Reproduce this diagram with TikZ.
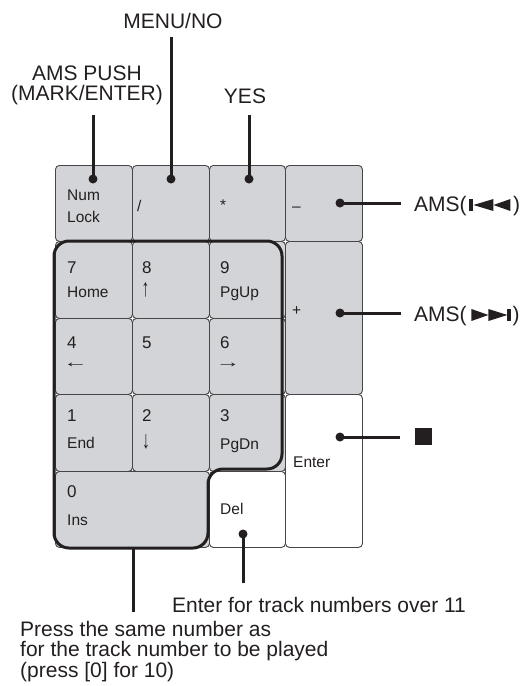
\documentclass[tikz,border=0pt]{standalone}
\usepackage{fontspec}
\setmainfont{Liberation Sans}
\usetikzlibrary{calc}
\definecolor{keygray}{RGB}{211,212,215}
\definecolor{ink}{RGB}{35,31,32}
\definecolor{keyedge}{RGB}{70,70,72}
\tikzset{
  keybox/.style={draw=keyedge, line width=0.9pt, rounded corners=4pt, fill=keygray, anchor=north west, inner sep=0pt},
  keywhite/.style={keybox, fill=white},
  conn/.style={draw=ink, line width=3pt},
  dot/.style={circle, fill=ink, minimum size=9pt, inner sep=0pt},
  lab/.style={font=\fontsize{21}{19.5}\selectfont, text=ink, inner sep=0pt},
  klab/.style={font=\fontsize{15.5}{17}\selectfont, text=ink, anchor=base west, inner sep=0pt},
  kdig/.style={font=\fontsize{17}{18}\selectfont, text=ink, anchor=base west, inner sep=0pt},
  karr/.style={font=\fontsize{15.5}{17}\selectfont, text=ink, inner sep=0pt},
  padoutline/.style={draw=ink, line width=3pt, rounded corners=15pt},
}
\begin{document}
\begin{tikzpicture}[x=1pt,y=-1pt]
\useasboundingbox (0,0) rectangle (520,686);
% keys
\node[keybox, minimum width=77pt, minimum height=76pt] (kNum) at (55,165) {};
\node[keybox, minimum width=77pt, minimum height=76pt] (kSlash) at (132,165) {};
\node[keybox, minimum width=76pt, minimum height=76pt] (kStar) at (209,165) {};
\node[keybox, minimum width=77pt, minimum height=76pt] (kMinus) at (285,165) {};
\node[keybox, minimum width=77pt, minimum height=77pt] (k7) at (55,241) {};
\node[keybox, minimum width=77pt, minimum height=77pt] (k8) at (132,241) {};
\node[keybox, minimum width=76pt, minimum height=77pt] (k9) at (209,241) {};
\node[keybox, minimum width=77pt, minimum height=153pt] (kPlus) at (285,241) {};
\node[keybox, minimum width=77pt, minimum height=76pt] (k4) at (55,318) {};
\node[keybox, minimum width=77pt, minimum height=76pt] (k5) at (132,318) {};
\node[keybox, minimum width=76pt, minimum height=76pt] (k6) at (209,318) {};
\node[keybox, minimum width=77pt, minimum height=77pt] (k1) at (55,394) {};
\node[keybox, minimum width=77pt, minimum height=77pt] (k2) at (132,394) {};
\node[keybox, minimum width=76pt, minimum height=77pt] (k3) at (209,394) {};
\node[keywhite, minimum width=77pt, minimum height=153pt] (kEnter) at (285,394) {};
\node[keybox, minimum width=154pt, minimum height=76pt] (k0) at (55,471) {};
\node[keywhite, minimum width=76pt, minimum height=76pt] (kDel) at (209,471) {};
% key labels
\node[klab] (tNum) at (67,200) {Num};
\node[klab] (tLock) at (67,222) {Lock};
\node[klab] (tSlash) at (137,211) {/};
\node[klab] (tStar) at (220,210) {*};
\node[klab] (tMinus) at (292,211) {–};
\node[kdig] (t7) at (67,273) {7};
\node[klab] (tHome) at (67,297) {Home};
\node[kdig] (t8) at (142,273) {8};
\node[karr] (tUp) at (145.5,290) {\scalebox{1}[1.6]{↑}};
\node[kdig] (t9) at (220,273) {9};
\node[klab] (tPgUp) at (220,297) {PgUp};
\node[klab] (tPlus) at (292,315) {+};
\node[kdig] (t4) at (67,348) {4};
\node[karr] (tLeft) at (75.5,365) {\scalebox{1.6}[1]{←}};
\node[kdig] (t5) at (142,348) {5};
\node[kdig] (t6) at (220,348) {6};
\node[karr] (tRight) at (228,365) {\scalebox{1.6}[1]{→}};
\node[kdig] (t1) at (67,421) {1};
\node[klab] (tEnd) at (67,448) {End};
\node[kdig] (t2) at (142,421) {2};
\node[karr] (tDown) at (146,442) {\scalebox{1}[1.6]{↓}};
\node[kdig] (t3) at (220,421) {3};
\node[klab] (tPgDn) at (220,449) {PgDn};
\node[klab] (tEnter) at (293,467) {Enter};
\node[kdig] (t0) at (67,497) {0};
\node[klab] (tIns) at (67,525) {Ins};
\node[klab] (tDel) at (220,514) {Del};
% outline of the number block
\draw[padoutline] (54,241) -- (282,241) -- (282,469) -- (208,469) -- (208,548) -- (54,548) -- cycle;
% top labels
\node[lab, anchor=base] (lMenu) at (173,28) {MENU/NO};
\node[lab, anchor=base, align=center] (lAms) at (87,100) {AMS PUSH\\(MARK/ENTER)};
\node[lab, anchor=base] (lYes) at (245,103) {YES};
% dots
\node[dot] (dNum) at (93,179) {};
\node[dot] (dSlash) at (171,179) {};
\node[dot] (dStar) at (249,179) {};
\node[dot] (dMinus) at (340,203) {};
\node[dot] (dPlus) at (340,313) {};
\node[dot] (dEnter) at (340,437) {};
\node[dot] (dDel) at (243,534) {};
% free ends
\coordinate (eNum) at (93,115);
\coordinate (eSlash) at (171,37);
\coordinate (eStar) at (249,115);
\coordinate (eMinus) at (401,203);
\coordinate (ePlus) at (401,313);
\coordinate (eEnter) at (400,437);
\coordinate (eDel) at (243,583);
\coordinate (zTop) at (133,548);
\coordinate (zBot) at (133,612);
\draw[conn] (dNum.center) -- (eNum);
\draw[conn] (dSlash.center) -- (eSlash);
\draw[conn] (dStar.center) -- (eStar);
\draw[conn] (dMinus.center) -- (eMinus);
\draw[conn] (dPlus.center) -- (ePlus);
\draw[conn] (dEnter.center) -- (eEnter);
\draw[conn] (dDel.center) -- (eDel);
\draw[conn] (zTop) -- (zBot);
% right labels
\node[lab, anchor=base west] (ams1) at (414,211) {AMS(};
\fill[ink] ($(ams1.base east)+(2.5,0)$) rectangle +(4,-12);
\fill[ink] ($(ams1.base east)+(6.5,-6)$) -- ++(20,-6) -- ++(0,12) -- cycle;
\fill[ink] ($(ams1.base east)+(26.5,-6)$) -- ++(17,-6) -- ++(0,12) -- cycle;
\node[lab, anchor=base west] (ams1r) at ($(ams1.base east)+(46,0)$) {)};
\node[lab, anchor=base west] (ams2) at (414,321) {AMS(};
\fill[ink] ($(ams2.base east)+(4.5,0)$) -- ++(0,-12) -- ++(17,6) -- cycle;
\fill[ink] ($(ams2.base east)+(21.5,0)$) -- ++(0,-12) -- ++(19,6) -- cycle;
\fill[ink] ($(ams2.base east)+(40.5,0)$) rectangle +(4,-12);
\node[lab, anchor=base west] (ams2r) at ($(ams2.base east)+(45.5,0)$) {)};
\node[fill=ink, minimum size=17pt, inner sep=0pt, anchor=north west] (stopsq) at (415,428) {};
% bottom labels
\node[lab, anchor=base west] (lOver) at (172,612) {Enter for track numbers over 11};
\node[lab, anchor=base west, align=left] (lPress) at (20,677) {Press the same number as\\for the track number to be played\\(press [0] for 10)};
\end{tikzpicture}
\end{document}
